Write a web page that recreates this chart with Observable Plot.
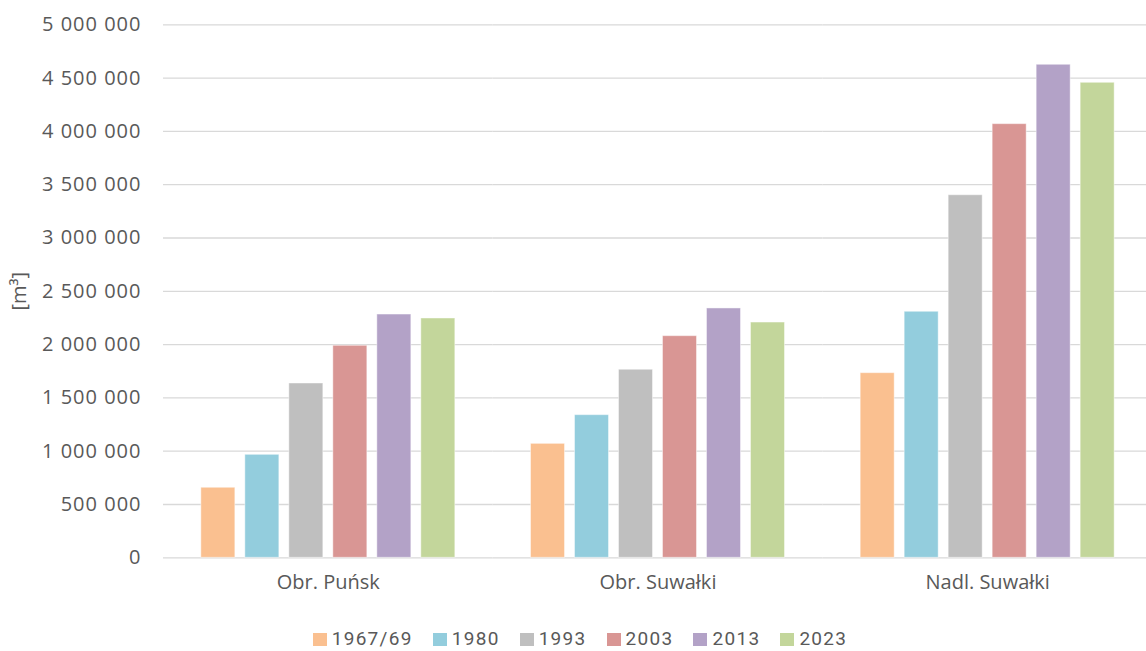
<!DOCTYPE html>
<html><head><meta charset="utf-8">
<script src="https://cdn.jsdelivr.net/npm/d3@7"></script>
<script src="https://cdn.jsdelivr.net/npm/@observablehq/plot@0.6"></script>
<style>
html,body{margin:0;padding:0;background:#fff;overflow:hidden;}
#legend{display:flex;justify-content:center;align-items:center;font-family:Roboto,"Open Sans",sans-serif;font-size:19px;line-height:22px;color:#595959;height:22px;margin-top:13px;padding-left:14px;letter-spacing:1.3px;}
#legend .item{display:flex;align-items:center;margin:0 10px;}
#legend .sw{width:14px;height:13px;margin-right:5px;}
g[aria-label="y-axis tick label"] text{letter-spacing:1px;}
</style></head><body><div id="chart"></div><div id="legend"></div>
<script>
const groups = ["Obr. Puńsk", "Obr. Suwałki", "Nadl. Suwałki"];
const years = ["1967/69", "1980", "1993", "2003", "2013", "2023"];
const colors = ["#FAC090", "#93CDDD", "#BFBFBF", "#D99694", "#B3A2C7", "#C3D69B"];
const valuesPunsk = [657000, 966000, 1635000, 1989000, 2282000, 2245000];
const valuesSuwalki = [1069000, 1338000, 1764000, 2079000, 2339000, 2207000];
const valuesNadl = [1732000, 2308000, 3401000, 4068000, 4625000, 4456000];
const yTicks = [0, 500000, 1000000, 1500000, 2000000, 2500000, 3000000, 3500000, 4000000, 4500000, 5000000];

const series = [valuesPunsk, valuesSuwalki, valuesNadl];
const data = [];
groups.forEach((g, gi) => years.forEach((y, yi) => data.push({group: g, year: y, value: series[gi][yi]})));

const fmt = v => d3.format(",")(v).replace(/,/g, " ");
const font = "'Open Sans', sans-serif";

const chart = Plot.plot({
  width: 1146,
  height: 615,
  marginLeft: 163,
  marginRight: -6,
  marginTop: 24.3,
  marginBottom: 57.7,
  style: {fontFamily: font, fontSize: "20px", color: "#595959", background: "#fff"},
  fx: {domain: groups, padding: 0, round: false, label: null},
  x: {domain: years, paddingInner: 0.227, paddingOuter: 0.86, round: false, axis: null},
  y: {domain: [0, 5000000], label: null},
  color: {domain: years, range: colors},
  marks: [
    Plot.ruleY(yTicks, {stroke: "#d9d9d9", strokeWidth: 1.3}),
    Plot.axisY(yTicks, {tickSize: 0, tickPadding: 22, tickFormat: fmt, fill: "#595959", fontSize: 20,
      label: "[m³]", labelAnchor: "center", labelOffset: 152, labelArrow: false}),
    Plot.axisFx({anchor: "bottom", tickSize: 0, tickPadding: 17, fill: "#595959", fontSize: 20, label: null}),
    Plot.barY(data, {fx: "group", x: "year", y: "value", fill: "year", stroke: "white", strokeOpacity: 0.45, strokeWidth: 1})
  ]
});
document.getElementById("chart").appendChild(chart);

const legend = document.getElementById("legend");
years.forEach((y, i) => {
  const it = document.createElement("div");
  it.className = "item";
  const sw = document.createElement("span");
  sw.className = "sw";
  sw.style.background = colors[i];
  const t = document.createElement("span");
  t.textContent = y;
  it.appendChild(sw); it.appendChild(t);
  legend.appendChild(it);
});
</script></body></html>
